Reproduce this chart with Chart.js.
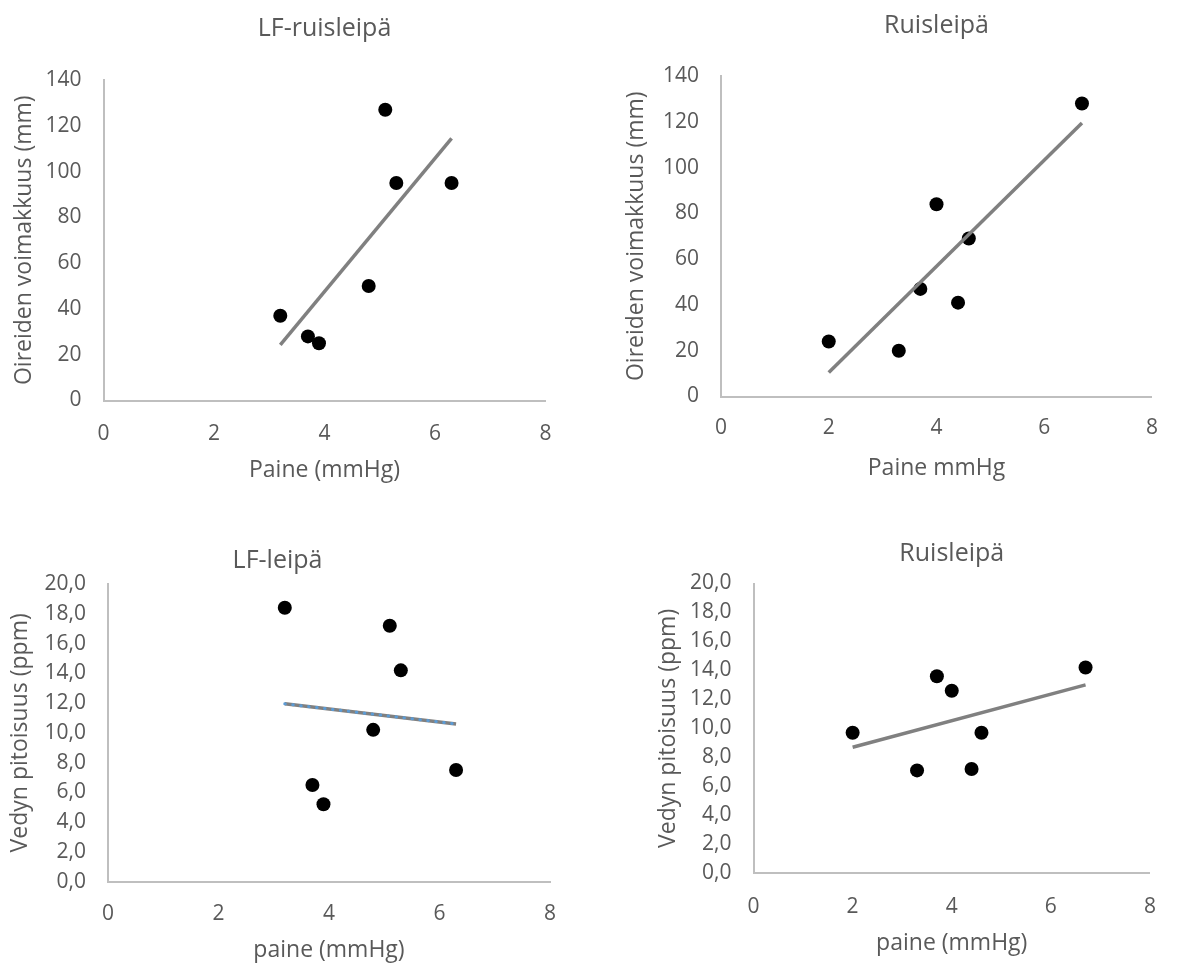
<!DOCTYPE html>
<html lang="fi">
<head>
<meta charset="utf-8">
<title>Paine ja oireet</title>
<script src="https://cdn.jsdelivr.net/npm/chart.js@4/dist/chart.umd.min.js"></script>
<style>
    html, body { margin: 0; padding: 0; background: #fff; overflow: hidden; }
    body { width: 1177px; height: 965px; position: relative; }
    canvas { position: absolute; }
</style>
</head>
<body>
<canvas id="c1" width="590" height="490" style="left:0;top:0;width:590px;height:490px"></canvas>
<canvas id="c2" width="587" height="490" style="left:590px;top:0;width:587px;height:490px"></canvas>
<canvas id="c3" width="590" height="475" style="left:0;top:490px;width:590px;height:475px"></canvas>
<canvas id="c4" width="587" height="475" style="left:590px;top:490px;width:587px;height:475px"></canvas>
<script>
// LF-ruisleipä / LF-leipä mittaukset
const lfPaine = [3.2, 3.7, 3.9, 4.8, 5.1, 5.3, 6.3];
const lfOireet = [37, 28, 25, 50, 127, 95, 95];
const lfVety = [18.4, 6.5, 5.2, 10.2, 17.2, 14.2, 7.5];

// Ruisleipä mittaukset
const ruisPaine = [2.0, 3.3, 3.7, 4.0, 4.4, 4.6, 6.7];
const ruisOireet = [24, 20, 47, 84, 41, 69, 128];
const ruisVety = [9.7, 7.1, 13.6, 12.6, 7.2, 9.7, 14.2];

// trendiviivojen päätepisteet (luettu kuvasta)
const lfOireetTrendX = [3.2, 6.3];
const lfOireetTrendY = [24.3, 114.5];
const ruisOireetTrendX = [2.0, 6.7];
const ruisOireetTrendY = [10.5, 119.5];
const lfVetyTrendX = [3.2, 6.3];
const lfVetyTrendY = [11.95, 10.6];
const ruisVetyTrendX = [2.0, 6.7];
const ruisVetyTrendY = [8.7, 13.0];

// akselit
const xRange = [0, 8];
const xStep = 2;
const oireRange = [0, 140];
const oireStep = 20;
const vetyRange = [0, 20];
const vetyStep = 2;

const TEXT = '#595959';
const AXIS = '#bfbfbf';
const TREND = '#808080';

Chart.defaults.font.family = "'Open Sans', sans-serif";
Chart.defaults.color = TEXT;

function toPoints(xs, ys) {
    return xs.map((x, i) => ({ x: x, y: ys[i] }));
}

function makeChart(id, cfg) {
    const ctx = document.getElementById(id).getContext('2d');

    const datasets = [];
    if (cfg.dotted) {
        // sininen pisteviiva harmaan päällä
        datasets.push({
            type: 'line',
            data: toPoints(cfg.trendX, cfg.trendY),
            borderColor: '#5b9bd5',
            borderWidth: 3,
            borderDash: [0.5, 7.5],
            borderCapStyle: 'round',
            pointRadius: 0,
            fill: false
        });
    }
    datasets.push({
        type: 'line',
        data: toPoints(cfg.trendX, cfg.trendY),
        borderColor: TREND,
        borderWidth: 3.5,
        pointRadius: 0,
        fill: false
    });
    datasets.push({
        type: 'scatter',
        data: toPoints(cfg.xs, cfg.ys),
        backgroundColor: '#000',
        borderWidth: 0,
        pointRadius: 7
    });

    return new Chart(ctx, {
        type: 'scatter',
        data: { datasets: datasets },
        options: {
            responsive: false,
            devicePixelRatio: 1,
            animation: false,
            layout: { padding: { left: cfg.padLeft, right: cfg.padRight, top: 0, bottom: 0 } },
            plugins: {
                legend: { display: false },
                tooltip: { enabled: false },
                title: {
                    display: true,
                    text: cfg.title,
                    color: TEXT,
                    fullSize: cfg.titleFull,
                    font: { size: 25, weight: 'normal', lineHeight: 1.2 },
                    padding: { top: cfg.titleTop, bottom: cfg.titleBottom }
                }
            },
            scales: {
                x: {
                    type: 'linear',
                    min: xRange[0],
                    max: xRange[1],
                    grid: { display: false, drawTicks: false, tickLength: 0 },
                    border: { display: true, color: AXIS, width: 2 },
                    ticks: { stepSize: xStep, padding: cfg.xTickPad, color: TEXT, font: { size: 21, lineHeight: 1.2 } },
                    title: {
                        display: true,
                        text: cfg.xTitle,
                        color: TEXT,
                        font: { size: 23, lineHeight: 1.2 },
                        padding: { top: 0, bottom: cfg.xTitlePad }
                    },
                    afterFit: (s) => { s.height = cfg.xHeight; }
                },
                y: {
                    type: 'linear',
                    min: cfg.yRange[0],
                    max: cfg.yRange[1],
                    grid: { display: false, drawTicks: false, tickLength: 0 },
                    border: { display: true, color: AXIS, width: 2 },
                    ticks: {
                        stepSize: cfg.yStep,
                        autoSkip: false,
                        padding: 22,
                        color: TEXT,
                        font: { size: 21, lineHeight: 1.2 },
                        callback: cfg.decimal
                            ? (v) => v.toFixed(1).replace('.', ',')
                            : (v) => v
                    },
                    title: {
                        display: true,
                        text: cfg.yTitle,
                        color: TEXT,
                        font: { size: 23, lineHeight: 1.2 },
                        padding: { top: cfg.yTitlePad, bottom: 0 }
                    },
                    afterFit: (s) => { s.width = cfg.yWidth; }
                }
            }
        }
    });
}

// 1. LF-ruisleipä, oireet
makeChart('c1', {
    title: 'LF-ruisleipä', titleFull: false, titleTop: 14, titleBottom: 36,
    xs: lfPaine, ys: lfOireet, trendX: lfOireetTrendX, trendY: lfOireetTrendY,
    xTitle: 'Paine (mmHg)', yTitle: 'Oireiden voimakkuus (mm)',
    yRange: oireRange, yStep: oireStep, decimal: false,
    padLeft: 0, padRight: 44.5, yWidth: 103.5, xHeight: 89.5,
    xTickPad: 21, xTitlePad: 6, yTitlePad: 11
});

// 2. Ruisleipä, oireet
makeChart('c2', {
    title: 'Ruisleipä', titleFull: false, titleTop: 11, titleBottom: 35,
    xs: ruisPaine, ys: ruisOireet, trendX: ruisOireetTrendX, trendY: ruisOireetTrendY,
    xTitle: 'Paine mmHg', yTitle: 'Oireiden voimakkuus (mm)',
    yRange: oireRange, yStep: oireStep, decimal: false,
    padLeft: 0, padRight: 20.3, yWidth: 131, xHeight: 93.5,
    xTickPad: 19, xTitlePad: 8, yTitlePad: 33
});

// 3. LF-leipä, vety
makeChart('c3', {
    title: 'LF-leipä', titleFull: true, titleTop: 55.5, titleBottom: 8.5,
    xs: lfPaine, ys: lfVety, trendX: lfVetyTrendX, trendY: lfVetyTrendY, dotted: true,
    xTitle: 'paine (mmHg)', yTitle: 'Vedyn pitoisuus (ppm)',
    yRange: vetyRange, yStep: vetyStep, decimal: true,
    padLeft: 5, padRight: 40, yWidth: 103, xHeight: 83.3,
    xTickPad: 19.5, xTitlePad: 1.2, yTitlePad: 1.5
});

// 4. Ruisleipä, vety
makeChart('c4', {
    title: 'Ruisleipä', titleFull: false, titleTop: 49, titleBottom: 14.5,
    xs: ruisPaine, ys: ruisVety, trendX: ruisVetyTrendX, trendY: ruisVetyTrendY,
    xTitle: 'paine (mmHg)', yTitle: 'Vedyn pitoisuus (ppm)',
    yRange: vetyRange, yStep: vetyStep, decimal: true,
    padLeft: 0, padRight: 10.4, yWidth: 163.5, xHeight: 91.7,
    xTickPad: 21, xTitlePad: 7.9, yTitlePad: 64.8
});
</script>
</body>
</html>
